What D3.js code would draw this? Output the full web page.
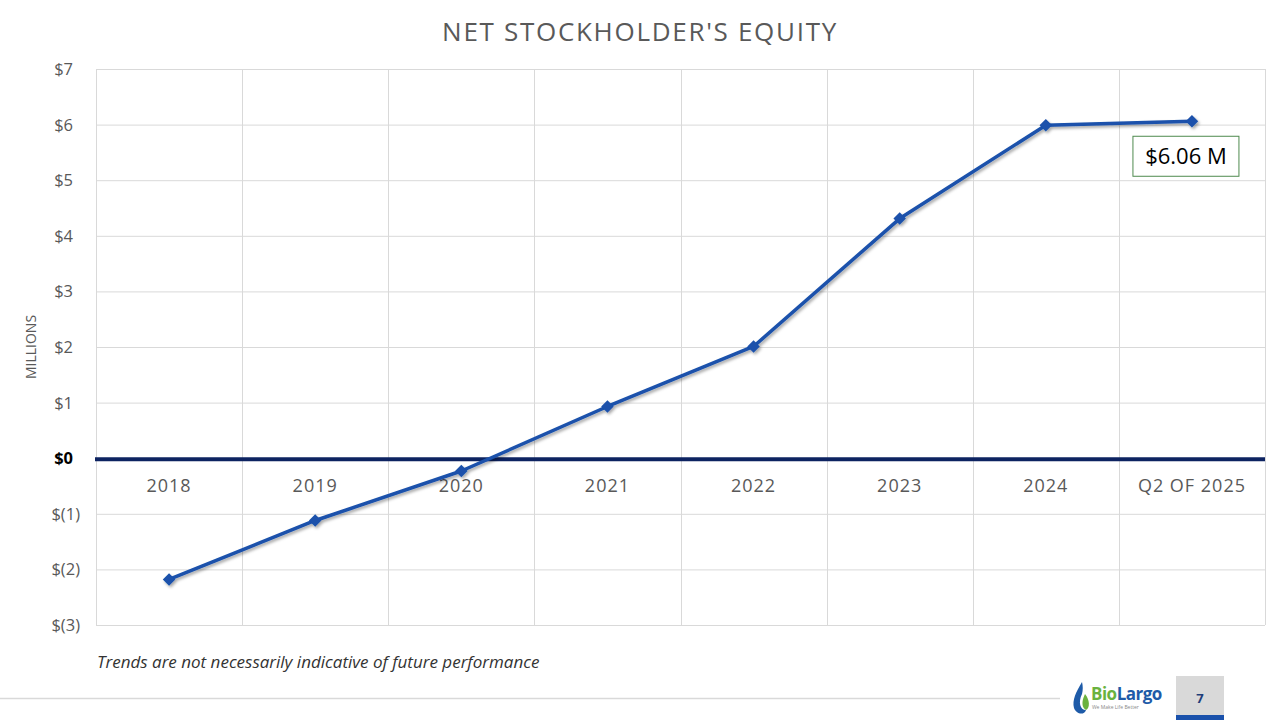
<!DOCTYPE html>
<html>
<head>
<meta charset="utf-8">
<script src="https://cdn.jsdelivr.net/npm/d3@7"></script>
<style>
  body { margin: 0; background: #fff; }
  svg { display: block; }
</style>
</head>
<body>
<svg id="chart"></svg>
<script>
let categories = ["2018", "2019", "2020", "2021", "2022", "2023", "2024", "Q2 OF 2025"];
let equity = [-2.18, -1.12, -0.23, 0.93, 2.01, 4.31, 5.99, 6.06];
let yTicks = [-3, -2, -1, 0, 1, 2, 3, 4, 5, 6, 7];

let width = 1280,
    height = 720;

let margin = {top: 69, right: 15, bottom: 95, left: 96};

let svg = d3.select("#chart")
    .attr("width", width)
    .attr("height", height);

let defs = svg.append("defs");
let shadow = defs.append("filter")
    .attr("id", "shadow")
    .attr("x", "-10%").attr("y", "-10%")
    .attr("width", "120%").attr("height", "130%");
shadow.append("feDropShadow")
    .attr("dx", 1.5).attr("dy", 2)
    .attr("stdDeviation", 1.5)
    .attr("flood-color", "#000")
    .attr("flood-opacity", 0.35);

let x = d3.scaleBand()
    .domain(categories)
    .range([margin.left, width - margin.right])
    .padding(0);

let y = d3.scaleLinear()
    .domain([-3, 7])
    .range([height - margin.bottom, margin.top]);

// title
svg.append("text")
    .attr("x", 640)
    .attr("y", 41)
    .attr("text-anchor", "middle")
    .attr("font-family", "'Open Sans', sans-serif")
    .attr("font-size", 26)
    .attr("letter-spacing", 1.7)
    .attr("fill", "#595959")
    .text("NET STOCKHOLDER'S EQUITY");

// horizontal grid
svg.append("g")
    .selectAll("line")
    .data(yTicks)
    .enter().append("line")
    .attr("x1", margin.left)
    .attr("x2", width - margin.right)
    .attr("y1", d => y(d) + 0.5)
    .attr("y2", d => y(d) + 0.5)
    .attr("stroke", "#d9d9d9")
    .attr("stroke-width", 1);

// vertical grid (category boundaries)
let bounds = categories.map(c => x(c)).concat([x.range()[1]]);
svg.append("g")
    .selectAll("line")
    .data(bounds)
    .enter().append("line")
    .attr("x1", d => Math.round(d) + 0.5)
    .attr("x2", d => Math.round(d) + 0.5)
    .attr("y1", margin.top)
    .attr("y2", height - margin.bottom)
    .attr("stroke", "#d9d9d9")
    .attr("stroke-width", 1);

// y axis labels
let fmt = d => d < 0 ? "$(" + Math.abs(d) + ")" : "$" + d;
svg.append("g")
    .selectAll("text")
    .data(yTicks)
    .enter().append("text")
    .attr("x", d => d < 0 ? 80 : 73)
    .attr("y", d => y(d) + 6)
    .attr("text-anchor", "end")
    .attr("font-family", "'Open Sans', sans-serif")
    .attr("font-size", 16.5)
    .attr("font-weight", d => d === 0 ? 700 : 400)
    .attr("fill", d => d === 0 ? "#000" : "#595959")
    .text(fmt);

// y axis title
svg.append("text")
    .attr("transform", "translate(36," + y(2) + ") rotate(-90)")
    .attr("text-anchor", "middle")
    .attr("font-family", "'Open Sans', sans-serif")
    .attr("font-size", 14)
    .attr("fill", "#595959")
    .text("MILLIONS");

// zero line
svg.append("line")
    .attr("x1", margin.left - 1)
    .attr("x2", width - margin.right)
    .attr("y1", y(0) + 1)
    .attr("y2", y(0) + 1)
    .attr("stroke", "#0d2361")
    .attr("stroke-width", 4);

// category labels
svg.append("g")
    .selectAll("text")
    .data(categories)
    .enter().append("text")
    .attr("x", d => x(d) + x.bandwidth() / 2)
    .attr("y", y(0) + 34)
    .attr("text-anchor", "middle")
    .attr("font-family", "'Open Sans', sans-serif")
    .attr("font-size", 18)
    .attr("letter-spacing", 1)
    .attr("fill", "#595959")
    .text(d => d);

// line series
let line = d3.line()
    .x((d, i) => x(categories[i]) + x.bandwidth() / 2)
    .y(d => y(d));

let series = svg.append("g").attr("filter", "url(#shadow)");

series.append("path")
    .datum(equity)
    .attr("d", line)
    .attr("fill", "none")
    .attr("stroke", "#1a51ab")
    .attr("stroke-width", 3.5)
    .attr("stroke-linejoin", "round");

series.selectAll("path.marker")
    .data(equity)
    .enter().append("path")
    .attr("class", "marker")
    .attr("d", d3.symbol().type(d3.symbolDiamond2 || d3.symbolDiamond).size(100))
    .attr("transform", (d, i) => "translate(" + (x(categories[i]) + x.bandwidth() / 2) + "," + y(d) + ")")
    .attr("fill", "#1a51ab");

// data label for last point
let last = equity.length - 1;
let lx = x(categories[last]) + x.bandwidth() / 2;
let labelG = svg.append("g")
    .attr("transform", "translate(" + (lx - 6) + "," + (y(equity[last]) + 35) + ")");
labelG.append("rect")
    .attr("x", -53)
    .attr("y", -20)
    .attr("width", 106)
    .attr("height", 40)
    .attr("fill", "#fff")
    .attr("stroke", "#4e8a4e")
    .attr("stroke-width", 1);
labelG.append("text")
    .attr("x", 0)
    .attr("y", 8)
    .attr("text-anchor", "middle")
    .attr("font-family", "'Open Sans', sans-serif")
    .attr("font-size", 22)
    .attr("fill", "#000")
    .text("$" + equity[last].toFixed(2) + " M");

// footnote
svg.append("text")
    .attr("x", 97)
    .attr("y", 668)
    .attr("font-family", "'Open Sans', sans-serif")
    .attr("font-style", "italic")
    .attr("font-size", 17)
    .attr("fill", "#333")
    .text("Trends are not necessarily indicative of future performance");

// bottom rule
svg.append("line")
    .attr("x1", 0)
    .attr("x2", 1060)
    .attr("y1", 698.5)
    .attr("y2", 698.5)
    .attr("stroke", "#d9d9d9")
    .attr("stroke-width", 1.5);

// logo
let logo = svg.append("g").attr("transform", "translate(1072,680)");
logo.append("path")
    .attr("d", "M10,2 C4,12 0,20 2,28 C4,34 12,36 14,30 C8,30 6,22 10,14 C11,10 11,6 10,2 Z")
    .attr("fill", "#1e5ba8");
logo.append("path")
    .attr("d", "M13,14 C9,22 10,28 14,30 C18,28 18,20 13,14 Z")
    .attr("fill", "#6ab23e");
logo.append("text")
    .attr("x", 19)
    .attr("y", 20)
    .attr("font-family", "'Open Sans', sans-serif")
    .attr("font-weight", 700)
    .attr("font-size", 17)
    .attr("letter-spacing", -0.5)
    .html("<tspan fill='#6ab23e'>Bio</tspan><tspan fill='#1e5ba8'>Largo</tspan>");
logo.append("text")
    .attr("x", 20)
    .attr("y", 29)
    .attr("font-family", "'Open Sans', sans-serif")
    .attr("font-size", 5)
    .attr("fill", "#888")
    .text("We Make Life Better");

// page number box
svg.append("rect")
    .attr("x", 1176)
    .attr("y", 676)
    .attr("width", 48)
    .attr("height", 44)
    .attr("fill", "#d9d9d9");
svg.append("rect")
    .attr("x", 1176)
    .attr("y", 715)
    .attr("width", 48)
    .attr("height", 5)
    .attr("fill", "#1a51ab");
svg.append("text")
    .attr("x", 1200)
    .attr("y", 703)
    .attr("text-anchor", "middle")
    .attr("font-family", "'Open Sans', sans-serif")
    .attr("font-weight", 700)
    .attr("font-size", 13)
    .attr("fill", "#1f3f7a")
    .text("7");
</script>
</body>
</html>
